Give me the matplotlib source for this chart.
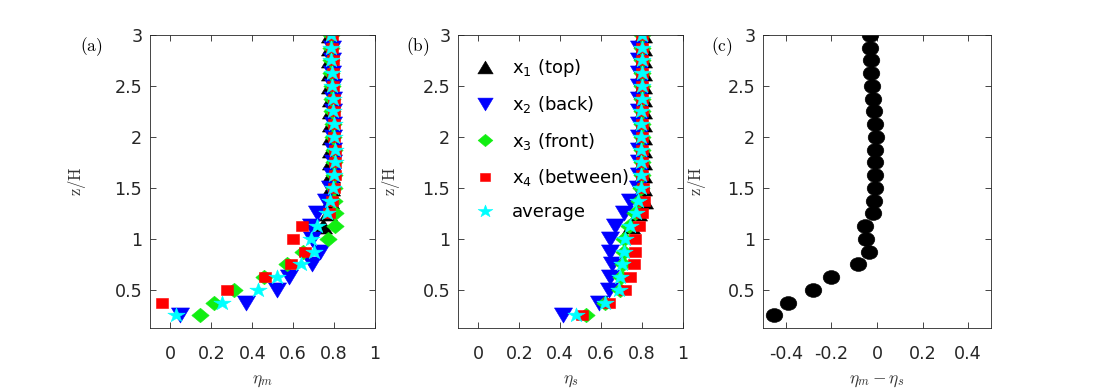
import numpy as np
import matplotlib
matplotlib.use('Agg')
import matplotlib.pyplot as plt
from matplotlib.markers import MarkerStyle
from matplotlib.path import Path

nan = np.nan

# heights z/H
z = np.arange(0.25, 3.0001, 0.125)

# panel (a): eta_m  (x1 = top, solo por encima del techo)
x1_m = [nan, nan, nan, nan, nan, nan, nan, 0.745, 0.77, 0.78, 0.785, 0.785, 0.785, 0.785, 0.785,
        0.785, 0.785, 0.785, 0.78, 0.78, 0.78, 0.78, 0.78]
x2_m = [0.045, 0.37, 0.52, 0.58, 0.693, 0.733, 0.69, 0.685, 0.717, 0.758, 0.78, 0.79, 0.795, 0.795, 0.795,
        0.795, 0.795, 0.795, 0.795, 0.79, 0.79, 0.79, 0.79]
x3_m = [0.146, 0.213, 0.31, 0.457, 0.57, 0.65, 0.77, 0.806, 0.805, 0.80, 0.80, 0.80, 0.80, 0.80, 0.795,
        0.795, 0.79, 0.79, 0.79, 0.785, 0.785, 0.785, 0.785]
x4_m = [nan, -0.04, 0.275, 0.46, 0.587, 0.66, 0.60, 0.644, 0.775, 0.79, 0.80, 0.805, 0.805, 0.805, 0.80,
        0.80, 0.80, 0.80, 0.795, 0.795, 0.795, 0.79, 0.79]
avg_m = [0.025, 0.25, 0.43, 0.52, 0.64, 0.70, 0.685, 0.717, 0.766, 0.78, 0.795, 0.80, 0.805, 0.805, 0.80,
         0.80, 0.795, 0.795, 0.79, 0.79, 0.787, 0.787, 0.785]

# panel (b): eta_s
x1_s = [nan, nan, nan, nan, nan, nan, nan, 0.745, 0.78, 0.81, 0.805, 0.805, 0.805, 0.805, 0.805,
        0.805, 0.805, 0.805, 0.805, 0.805, 0.805, 0.805, 0.805]
x2_s = [0.413, 0.59, 0.637, 0.645, 0.654, 0.645, 0.645, 0.67, 0.71, 0.743, 0.78, 0.785, 0.785, 0.785, 0.785,
        0.785, 0.785, 0.785, 0.785, 0.785, 0.785, 0.785, 0.79]
x3_s = [0.524, 0.62, 0.694, 0.695, 0.705, 0.71, 0.71, 0.735, 0.767, 0.785, 0.795, 0.80, 0.80, 0.80, 0.80,
        0.80, 0.80, 0.80, 0.80, 0.80, 0.80, 0.80, 0.80]
x4_s = [0.507, 0.637, 0.718, 0.743, 0.76, 0.767, 0.767, 0.783, 0.80, 0.81, 0.805, 0.80, 0.80, 0.80, 0.80,
        0.80, 0.80, 0.80, 0.80, 0.80, 0.80, 0.80, 0.80]
avg_s = [0.475, 0.62, 0.686, 0.69, 0.70, 0.71, 0.718, 0.74, 0.77, 0.78, 0.795, 0.795, 0.797, 0.797, 0.797,
         0.797, 0.797, 0.798, 0.798, 0.798, 0.80, 0.80, 0.80]

# panel (c): eta_m - eta_s
diff = [-0.451, -0.39, -0.28, -0.20, -0.082, -0.037, -0.048, -0.053, -0.019, -0.015, -0.009, -0.009,
        -0.007, -0.009, -0.004, -0.009, -0.012, -0.019, -0.022, -0.026, -0.026, -0.031, -0.031]

labels = ['x$_1$ (top)', 'x$_2$ (back)', 'x$_3$ (front)', 'x$_4$ (between)', 'average']

plt.rcParams['font.family'] = 'DejaVu Sans'


def ancho(m, sx=1.2):
    # la figura original esta estirada en horizontal
    ms = MarkerStyle(m)
    p = ms.get_path().transformed(ms.get_transform())
    return Path(p.vertices * np.array([sx, 1.0]), p.codes)


estilos = [(ancho('^'), 13, 'black'),
           (ancho('v'), 13, '#0000ff'),
           (ancho('D'), 12.5, '#11ee11'),
           (ancho('s'), 8, '#ff0000'),
           (ancho('*'), 12.5, '#00ffff')]

fig = plt.figure(figsize=(10.94, 3.92), dpi=100)
ax_a = fig.add_axes([0.1371, 0.1633, 0.2057, 0.7474])
ax_b = fig.add_axes([0.4186, 0.1633, 0.2057, 0.7474])
ax_c = fig.add_axes([0.6974, 0.1633, 0.2084, 0.7474])


def formato(ax, xlabel, letra, lx, ylx):
    ax.set_ylim(0.125, 3)
    ax.set_yticks([0.5, 1, 1.5, 2, 2.5, 3])
    ax.set_yticklabels(['0.5', '1', '1.5', '2', '2.5', '3'])
    ax.tick_params(direction='in', top=True, right=True, length=4, width=0.6,
                   labelsize=12.6, colors='#262626')
    ax.tick_params(axis='x', pad=12)
    ax.tick_params(axis='y', pad=5.5)
    for s in ax.spines.values():
        s.set_color('#262626')
        s.set_linewidth(0.6)
    ax.set_xlabel(xlabel, fontsize=12.5, math_fontfamily='cm', color='#333333')
    ax.set_ylabel(r'$\mathrm{z/H}$', fontsize=12, math_fontfamily='cm', color='#333333')
    ax.xaxis.set_label_coords(0.5, -0.147)
    ax.yaxis.set_label_coords(ylx, 0.5)
    ax.text(lx, 0.96, r'$\mathrm{(%s)}$' % letra, transform=ax.transAxes, fontsize=12.5,
            math_fontfamily='cm', ha='center', va='center')


for datos, ax in [([x1_m, x2_m, x3_m, x4_m, avg_m], ax_a), ([x1_s, x2_s, x3_s, x4_s, avg_s], ax_b)]:
    for serie, (mk, ms, col), lab in zip(datos, estilos, labels):
        ax.plot(serie, z, ls='none', marker=mk, ms=ms, color=col, mec=col, mew=0.4, label=lab)
    ax.set_xlim(-0.1, 1)
    ax.set_xticks([0, 0.2, 0.4, 0.6, 0.8, 1])
    ax.set_xticklabels(['0', '0.2', '0.4', '0.6', '0.8', '1'])

ax_c.plot(diff, z, ls='none', marker=ancho('o'), ms=12, color='black', mec='black', mew=0.4)
ax_c.set_xlim(-0.5, 0.5)
ax_c.set_xticks([-0.4, -0.2, 0, 0.2, 0.4])
ax_c.set_xticklabels(['-0.4', '-0.2', '0', '0.2', '0.4'])

formato(ax_a, r'$\eta_m$', 'a', -0.262, -0.276)
formato(ax_b, r'$\eta_s$', 'b', -0.18, -0.249)
formato(ax_c, r'$\eta_m-\eta_s$', 'c', -0.18, -0.24)

leg = ax_b.legend(loc='upper left', bbox_to_anchor=(0.04, 0.95), frameon=False, fontsize=13,
                  markerscale=0.85, handlelength=1.2, handletextpad=0.9, labelspacing=0.85,
                  borderaxespad=0)

fig.savefig('out.png', dpi=100)
